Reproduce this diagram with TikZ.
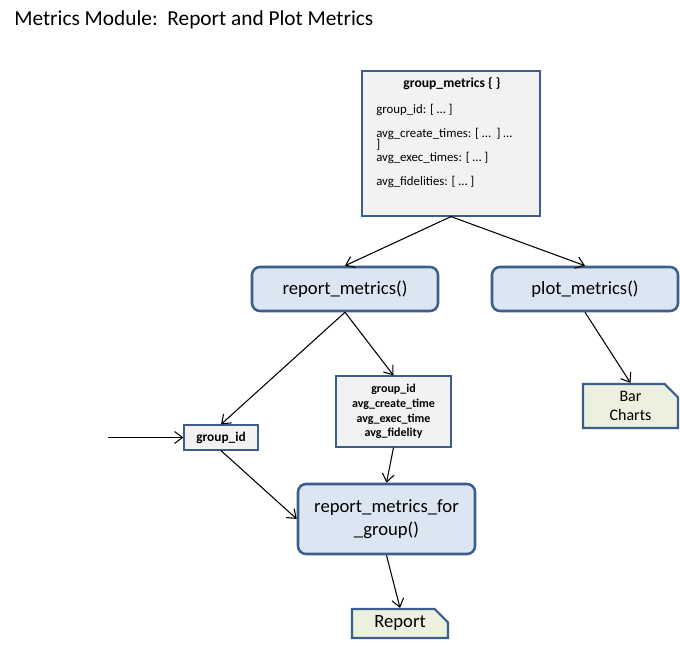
\documentclass[tikz,border=0pt]{standalone}
\usepackage{fontspec}
\setmainfont{Carlito}
\usetikzlibrary{arrows.meta,shapes.misc}
\definecolor{bord}{HTML}{3B5E8C}
\definecolor{fillblue}{HTML}{DCE6F2}
\definecolor{fillgray}{HTML}{F2F2F2}
\definecolor{fillgreen}{HTML}{EBF1DE}
\tikzset{
  func/.style={draw=bord, line width=1.9pt, fill=fillblue, rounded corners=6pt, inner sep=0pt, align=center, font=\fontsize{14}{17.5}\selectfont},
  databox/.style={draw=bord, line width=0.9pt, fill=fillgray, inner sep=0pt, align=center},
  docbox/.style={draw=bord, line width=1.6pt, fill=fillgreen, inner sep=0pt, align=center,
     chamfered rectangle, chamfered rectangle corners=north east, chamfered rectangle xsep=5pt, chamfered rectangle ysep=5pt},
  small/.style={font=\fontsize{9.6}{11}\selectfont, inner sep=0pt, anchor=west},
  conn/.style={-{Straight Barb[length=6pt,width=9pt]}, line width=0.8pt, black}
}
\begin{document}
\begin{tikzpicture}[x=0.75pt,y=-0.75pt]
\useasboundingbox (0,0) rectangle (680,645);
\node[anchor=west, inner sep=0pt, font=\fontsize{16}{19}\selectfont] (title) at (14,20) {Metrics Module:\ \ Report and Plot Metrics};

% group_metrics box
\node[databox, minimum width=133.5pt, minimum height=108.75pt] (gm) at (451,143.5) {};
\node[inner sep=0pt, font=\fontsize{10.2}{12}\selectfont\bfseries] (gmt) at (452,84) {group\_metrics \{ \}};
\node[small] (l1) at (376,110) {group\_id: [ … ]};
\node[small] (l2) at (376,134) {avg\_create\_times: [ …\ \ ] …};
\node[small] (l2b) at (376,145) {]};
\node[small] (l3) at (376,157.5) {avg\_exec\_times: [ … ]};
\node[small] (l4) at (376,182) {avg\_fidelities: [ … ]};

% functions
\node[func, minimum width=139.5pt, minimum height=33pt] (rm) at (345,289) {report\_metrics()};
\node[func, minimum width=139.5pt, minimum height=33pt] (pm) at (585,289) {plot\_metrics()};
\node[func, minimum width=132.75pt, minimum height=52.5pt] (rmfg) at (386.5,519) {report\_metrics\_for\\\_group()};

% data boxes
\node[databox, minimum width=55.5pt, minimum height=18.75pt, font=\fontsize{10}{12}\selectfont\bfseries] (gid) at (221,437.5) {group\_id};
\node[databox, minimum width=86.25pt, minimum height=53.25pt, font=\fontsize{9}{11}\selectfont\bfseries] (det) at (393.5,411.5) {group\_id\\avg\_create\_time\\avg\_exec\_time\\avg\_fidelity};

% documents
\node[docbox, minimum width=72pt, minimum height=21.75pt, font=\fontsize{14}{17}\selectfont] (rep) at (400,623.5) {Report};
\node[docbox, minimum width=71.25pt, minimum height=33pt, font=\fontsize{12}{14.5}\selectfont] (bar) at (630.5,406) {Bar\\Charts};

\coordinate (in) at (108,437.5);

% connectors
\draw[conn] (gm.south) -- (rm.north);
\draw[conn] (gm.south) -- (pm.north);
\draw[conn] (rm.south) -- (gid.north);
\draw[conn] (rm.south) -- (det.north);
\draw[conn] (in) -- (gid.west);
\draw[conn] (gid.south) -- (rmfg.west);
\draw[conn] (det.south) -- (rmfg.north);
\draw[conn] (rmfg.south) -- (rep.north);
\draw[conn] (pm.south) -- (bar.north);
\end{tikzpicture}
\end{document}
